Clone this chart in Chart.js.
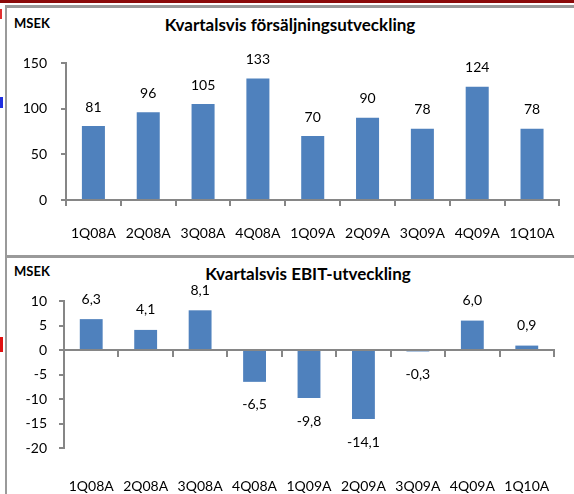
<!DOCTYPE html>
<html>
<head>
<meta charset="utf-8">
<script src="https://cdn.jsdelivr.net/npm/chart.js@4/dist/chart.umd.min.js"></script>
<style>
body { margin:0; width:574px; height:494px; position:relative; overflow:hidden; background:#fff; font-family: Lato, sans-serif; color:#000; }
.band { position:absolute; left:0; top:0; width:574px; height:3px; background:#8b0a0a; }
.hline { position:absolute; left:5px; width:569px; height:3px; background:#9a9a9a; }
.vline { position:absolute; left:5px; top:5px; width:2px; height:489px; background:#9a9a9a; }
.mark { position:absolute; left:0; width:3px; }
.unit { position:absolute; left:14px; font-weight:bold; font-size:13px; }
.title { position:absolute; font-weight:bold; font-size:17px; white-space:nowrap; transform:translateX(-50%); }
canvas { position:absolute; left:7px; }
</style>
</head>
<body>
<div class="band"></div>
<div class="hline" style="top:5px"></div>
<div class="hline" style="top:255px"></div>
<div class="vline"></div>
<div class="mark" style="top:9px;height:10px;border-left:2px dashed #e03030;width:0"></div>
<div class="mark" style="top:97px;height:11px;background:#1f2fe0"></div>
<div class="mark" style="top:337px;height:15px;background:#e01010"></div>

<div class="unit" style="top:15px">MSEK</div>
<div class="title" style="top:14px;left:290px">Kvartalsvis försäljningsutveckling</div>
<div class="unit" style="top:263px">MSEK</div>
<div class="title" style="top:263px;left:308px">Kvartalsvis EBIT-utveckling</div>

<canvas id="sales" width="567" height="246" style="top:9px"></canvas>
<canvas id="ebit" width="567" height="236" style="top:258px"></canvas>

<script>
// kvartal
const quarters = ['1Q08A','2Q08A','3Q08A','4Q08A','1Q09A','2Q09A','3Q09A','4Q09A','1Q10A'];
// försäljning MSEK
const sales = [81, 96, 105, 133, 70, 90, 78, 124, 78];
// EBIT MSEK
const ebit = [6.3, 4.1, 8.1, -6.5, -9.8, -14.1, -0.3, 6.0, 0.9];

const salesTicks = [0, 50, 100, 150];
const ebitTicks = [10, 5, 0, -5, -10, -15, -20];

const axisGray = '#868686';
const barBlue = '#4f81bd';
const tickFont = { family: 'Lato', size: 14 };

// skriver värdena vid staplarna
const valueLabels = {
    id: 'valueLabels',
    afterDatasetsDraw(chart, args, opts) {
        const ctx = chart.ctx;
        const meta = chart.getDatasetMeta(0);
        const vals = chart.data.datasets[0].data;
        ctx.save();
        ctx.font = '14px Lato';
        ctx.fillStyle = '#000';
        ctx.textAlign = 'center';
        ctx.textBaseline = 'middle';
        meta.data.forEach(function(bar, i){
            const v = vals[i];
            const y = v >= 0 ? bar.y - opts.above : bar.y + opts.below;
            ctx.fillText(opts.decimals ? v.toFixed(1).replace('.', ',') : String(v), bar.x, y);
        });
        ctx.restore();
    }
};

Chart.defaults.font.family = 'Lato';
Chart.defaults.color = '#000';

new Chart(document.getElementById('sales'), {
    type: 'bar',
    data: {
        labels: quarters,
        datasets: [{ data: sales, backgroundColor: barBlue, categoryPercentage: 1, barPercentage: 0.42 }]
    },
    options: {
        responsive: false,
        animation: false,
        layout: { padding: { top: 54, left: 0, right: 8, bottom: 0 } },
        plugins: {
            legend: { display: false },
            tooltip: { enabled: false },
            valueLabels: { above: 19, below: 23, decimals: false }
        },
        scales: {
            x: {
                offset: true,
                grid: { offset: true, drawOnChartArea: false, tickLength: 6, color: axisGray, lineWidth: 2 },
                border: { color: axisGray, width: 2 },
                ticks: { font: tickFont, padding: 19, maxRotation: 0 },
                afterFit: function(s){ s.height = 55; }
            },
            y: {
                min: 0, max: 150,
                afterBuildTicks: function(s){ s.ticks = salesTicks.map(v => ({ value: v })); },
                grid: { drawOnChartArea: false, tickLength: 5, color: axisGray, lineWidth: 2 },
                border: { color: axisGray, width: 2 },
                ticks: { font: tickFont, padding: 14 },
                afterFit: function(s){ s.width = 59; }
            }
        }
    },
    plugins: [valueLabels]
});

new Chart(document.getElementById('ebit'), {
    type: 'bar',
    data: {
        labels: quarters,
        datasets: [{ data: ebit, backgroundColor: barBlue, categoryPercentage: 1, barPercentage: 0.42 }]
    },
    options: {
        responsive: false,
        animation: false,
        layout: { padding: { top: 43, left: 0, right: 20, bottom: 0 } },
        plugins: {
            legend: { display: false },
            tooltip: { enabled: false },
            valueLabels: { above: 20, below: 23, decimals: true }
        },
        scales: {
            x: {
                position: { y: 0 },
                offset: true,
                grid: { offset: true, drawOnChartArea: false, tickLength: 6, color: axisGray, lineWidth: 2 },
                border: { color: axisGray, width: 2 },
                ticks: { display: false }
            },
            xl: {
                type: 'category',
                position: 'bottom',
                offset: true,
                grid: { display: false },
                border: { display: false },
                ticks: { font: tickFont, padding: 22, maxRotation: 0 },
                afterFit: function(s){ s.height = 46; }
            },
            y: {
                min: -20, max: 10,
                afterBuildTicks: function(s){ s.ticks = ebitTicks.map(v => ({ value: v })); },
                grid: { drawOnChartArea: false, tickLength: 5, color: axisGray, lineWidth: 2 },
                border: { color: axisGray, width: 2 },
                ticks: { font: tickFont, padding: 12 },
                afterFit: function(s){ s.width = 57; }
            }
        }
    },
    plugins: [valueLabels]
});
</script>
</body>
</html>
